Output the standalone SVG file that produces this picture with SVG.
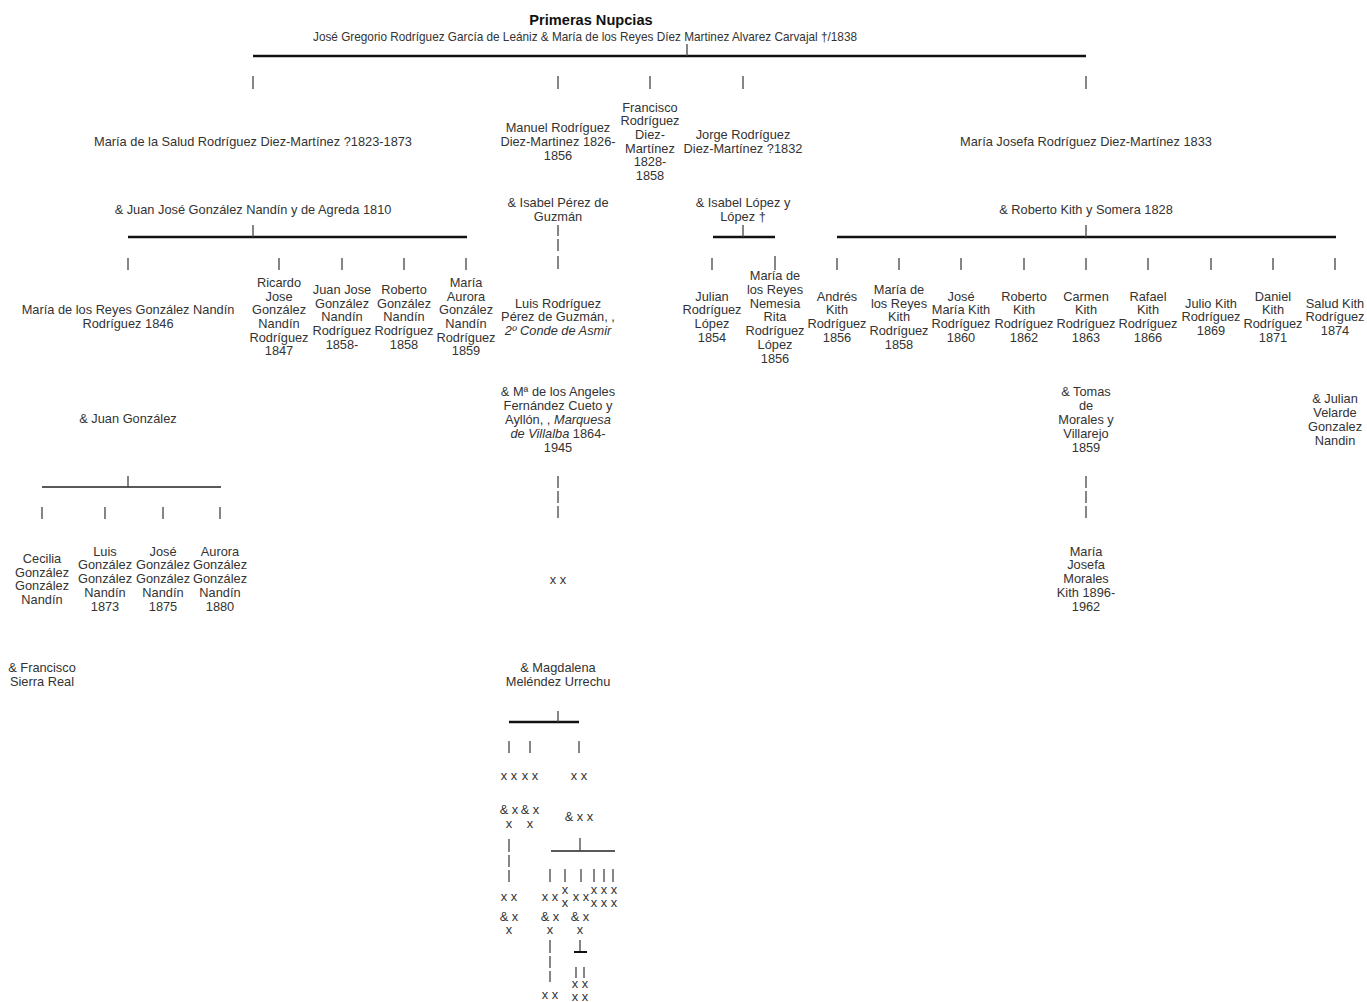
<svg xmlns="http://www.w3.org/2000/svg" width="1367" height="1002" viewBox="0 0 1367 1002">
<style>
.t{font-family:"Liberation Sans",Arial,sans-serif;font-size:12.8px;fill:#333;text-anchor:middle}
.b{font-weight:bold;font-size:14.6px;fill:#111}
.i{font-style:italic}
.tk{stroke:#444;stroke-width:1.3;fill:none}
.th{stroke:#111;stroke-width:2.6;fill:none}
.tn{stroke:#222;stroke-width:1.4;fill:none}
</style>
<rect width="1367" height="1002" fill="#fff"/>
<g id="connectors">
<line class="th" x1="253" y1="56" x2="1086" y2="56"/>
<line class="tk" x1="687" y1="44" x2="687" y2="56"/>
<g>
<line class="tk" x1="253" y1="76" x2="253" y2="89"/>
<line class="tk" x1="558" y1="76" x2="558" y2="89"/>
<line class="tk" x1="650" y1="76" x2="650" y2="89"/>
<line class="tk" x1="743" y1="76" x2="743" y2="89"/>
<line class="tk" x1="1086" y1="76" x2="1086" y2="89"/>
</g>
<line class="th" x1="128" y1="237" x2="467" y2="237"/>
<line class="tk" x1="253" y1="225" x2="253" y2="237"/>
<line class="tk" x1="558" y1="225" x2="558" y2="236"/>
<line class="tk" x1="558" y1="239" x2="558" y2="251"/>
<line class="tk" x1="558" y1="256" x2="558" y2="269"/>
<line class="th" x1="713" y1="237" x2="775" y2="237"/>
<line class="tk" x1="743" y1="225" x2="743" y2="237"/>
<line class="th" x1="837" y1="237" x2="1336" y2="237"/>
<line class="tk" x1="1086" y1="225" x2="1086" y2="237"/>
<g>
<line class="tk" x1="128" y1="258" x2="128" y2="270"/>
<line class="tk" x1="279" y1="258" x2="279" y2="270"/>
<line class="tk" x1="342" y1="258" x2="342" y2="270"/>
<line class="tk" x1="404" y1="258" x2="404" y2="270"/>
<line class="tk" x1="466" y1="258" x2="466" y2="270"/>
<line class="tk" x1="712" y1="258" x2="712" y2="270"/>
<line class="tk" x1="775" y1="256" x2="775" y2="270"/>
<line class="tk" x1="837" y1="258" x2="837" y2="270"/>
<line class="tk" x1="899" y1="258" x2="899" y2="270"/>
<line class="tk" x1="961" y1="258" x2="961" y2="270"/>
<line class="tk" x1="1024" y1="258" x2="1024" y2="270"/>
<line class="tk" x1="1086" y1="258" x2="1086" y2="270"/>
<line class="tk" x1="1148" y1="258" x2="1148" y2="270"/>
<line class="tk" x1="1211" y1="258" x2="1211" y2="270"/>
<line class="tk" x1="1273" y1="258" x2="1273" y2="270"/>
<line class="tk" x1="1335" y1="258" x2="1335" y2="270"/>
</g>
<line class="tn" x1="42" y1="487" x2="221" y2="487"/>
<line class="tk" x1="128" y1="476" x2="128" y2="487"/>
<line class="tk" x1="42" y1="507" x2="42" y2="519"/>
<line class="tk" x1="105" y1="507" x2="105" y2="519"/>
<line class="tk" x1="163" y1="507" x2="163" y2="519"/>
<line class="tk" x1="220" y1="507" x2="220" y2="519"/>
<line class="tk" x1="558" y1="476" x2="558" y2="488"/>
<line class="tk" x1="558" y1="491" x2="558" y2="503"/>
<line class="tk" x1="558" y1="506" x2="558" y2="518"/>
<line class="tk" x1="1086" y1="476" x2="1086" y2="488"/>
<line class="tk" x1="1086" y1="491" x2="1086" y2="503"/>
<line class="tk" x1="1086" y1="506" x2="1086" y2="518"/>
<line class="th" x1="509" y1="722" x2="579" y2="722"/>
<line class="tk" x1="558" y1="711" x2="558" y2="722"/>
<line class="tk" x1="509" y1="741" x2="509" y2="753"/>
<line class="tk" x1="530" y1="741" x2="530" y2="753"/>
<line class="tk" x1="579" y1="741" x2="579" y2="753"/>
<line class="tk" x1="509" y1="839" x2="509" y2="852"/>
<line class="tk" x1="509" y1="855" x2="509" y2="867"/>
<line class="tk" x1="509" y1="870" x2="509" y2="882"/>
<line class="tn" x1="551" y1="851" x2="615" y2="851"/>
<line class="tk" x1="580" y1="838" x2="580" y2="851"/>
<line class="tk" x1="550" y1="869" x2="550" y2="882"/>
<line class="tk" x1="565" y1="869" x2="565" y2="882"/>
<line class="tk" x1="581" y1="869" x2="581" y2="882"/>
<line class="tk" x1="594" y1="869" x2="594" y2="882"/>
<line class="tk" x1="604" y1="869" x2="604" y2="882"/>
<line class="tk" x1="613" y1="869" x2="613" y2="882"/>
<line class="tk" x1="550" y1="940" x2="550" y2="953"/>
<line class="tk" x1="550" y1="956" x2="550" y2="968"/>
<line class="tk" x1="550" y1="971" x2="550" y2="982"/>
<line class="tk" x1="580" y1="940" x2="580" y2="952"/>
<line class="th" x1="574" y1="952" x2="587" y2="952" style="stroke-width:2"/>
<line class="tk" x1="576" y1="967" x2="576" y2="978"/>
<line class="tk" x1="584" y1="967" x2="584" y2="978"/>
</g>
<g id="header">
<text class="t b" x="591" y="25">Primeras Nupcias</text>
<text class="t" x="585" y="41" textLength="544" lengthAdjust="spacingAndGlyphs">José Gregorio Rodríguez García de Leániz &amp; María de los Reyes Díez Martinez Alvarez Carvajal †/1838</text>
</g>
<g id="salud"><text class="t" x="253" y="146">María de la Salud Rodríguez Diez-Martínez ?1823-1873</text></g>
<g id="manuel"><text class="t"><tspan x="558" y="132">Manuel Rodríguez</tspan><tspan x="558" y="146">Diez-Martinez 1826-</tspan><tspan x="558" y="160">1856</tspan></text></g>
<g id="francisco"><text class="t"><tspan x="650" y="112">Francisco</tspan><tspan x="650" y="125">Rodríguez</tspan><tspan x="650" y="139">Diez-</tspan><tspan x="650" y="153">Martínez</tspan><tspan x="650" y="166">1828-</tspan><tspan x="650" y="180">1858</tspan></text></g>
<g id="jorge"><text class="t"><tspan x="743" y="139">Jorge Rodríguez</tspan><tspan x="743" y="153">Diez-Martínez ?1832</tspan></text></g>
<g id="mjosefa"><text class="t" x="1086" y="146">María Josefa Rodríguez Diez-Martínez 1833</text></g>
<g id="sp_salud"><text class="t" x="253" y="214">&amp; Juan José González Nandín y de Agreda 1810</text></g>
<g id="sp_manuel"><text class="t"><tspan x="558" y="207">&amp; Isabel Pérez de</tspan><tspan x="558" y="221">Guzmán</tspan></text></g>
<g id="sp_jorge"><text class="t"><tspan x="743" y="207">&amp; Isabel López y</tspan><tspan x="743" y="221">López †</tspan></text></g>
<g id="sp_mjosefa"><text class="t" x="1086" y="214">&amp; Roberto Kith y Somera 1828</text></g>
<g id="mreyes_gn"><text class="t"><tspan x="128" y="314">María de los Reyes González Nandín</tspan><tspan x="128" y="328">Rodríguez 1846</tspan></text></g>
<g id="ricardo"><text class="t"><tspan x="279" y="287">Ricardo</tspan><tspan x="279" y="301">Jose</tspan><tspan x="279" y="314">González</tspan><tspan x="279" y="328">Nandín</tspan><tspan x="279" y="342">Rodríguez</tspan><tspan x="279" y="355">1847</tspan></text></g>
<g id="juanjose"><text class="t"><tspan x="342" y="294">Juan Jose</tspan><tspan x="342" y="308">González</tspan><tspan x="342" y="321">Nandín</tspan><tspan x="342" y="335">Rodríguez</tspan><tspan x="342" y="349">1858-</tspan></text></g>
<g id="roberto_gn"><text class="t"><tspan x="404" y="294">Roberto</tspan><tspan x="404" y="308">González</tspan><tspan x="404" y="321">Nandín</tspan><tspan x="404" y="335">Rodríguez</tspan><tspan x="404" y="349">1858</tspan></text></g>
<g id="maurora"><text class="t"><tspan x="466" y="287">María</tspan><tspan x="466" y="301">Aurora</tspan><tspan x="466" y="314">González</tspan><tspan x="466" y="328">Nandín</tspan><tspan x="466" y="342">Rodríguez</tspan><tspan x="466" y="355">1859</tspan></text></g>
<g id="luis_rpg"><text class="t"><tspan x="558" y="308">Luis Rodríguez</tspan><tspan x="558" y="321">Pérez de Guzmán, ,</tspan><tspan x="558" y="335" class="i">2º Conde de Asmir</tspan></text></g>
<g id="julian_rl"><text class="t"><tspan x="712" y="301">Julian</tspan><tspan x="712" y="314">Rodríguez</tspan><tspan x="712" y="328">López</tspan><tspan x="712" y="342">1854</tspan></text></g>
<g id="mreyes_rl"><text class="t"><tspan x="775" y="280">María de</tspan><tspan x="775" y="294">los Reyes</tspan><tspan x="775" y="308">Nemesia</tspan><tspan x="775" y="321">Rita</tspan><tspan x="775" y="335">Rodríguez</tspan><tspan x="775" y="349">López</tspan><tspan x="775" y="363">1856</tspan></text></g>
<g id="andres"><text class="t"><tspan x="837" y="301">Andrés</tspan><tspan x="837" y="314">Kith</tspan><tspan x="837" y="328">Rodríguez</tspan><tspan x="837" y="342">1856</tspan></text></g>
<g id="mreyes_k"><text class="t"><tspan x="899" y="294">María de</tspan><tspan x="899" y="308">los Reyes</tspan><tspan x="899" y="321">Kith</tspan><tspan x="899" y="335">Rodríguez</tspan><tspan x="899" y="349">1858</tspan></text></g>
<g id="jmaria_k"><text class="t"><tspan x="961" y="301">José</tspan><tspan x="961" y="314">María Kith</tspan><tspan x="961" y="328">Rodríguez</tspan><tspan x="961" y="342">1860</tspan></text></g>
<g id="roberto_k"><text class="t"><tspan x="1024" y="301">Roberto</tspan><tspan x="1024" y="314">Kith</tspan><tspan x="1024" y="328">Rodríguez</tspan><tspan x="1024" y="342">1862</tspan></text></g>
<g id="carmen_k"><text class="t"><tspan x="1086" y="301">Carmen</tspan><tspan x="1086" y="314">Kith</tspan><tspan x="1086" y="328">Rodríguez</tspan><tspan x="1086" y="342">1863</tspan></text></g>
<g id="rafael_k"><text class="t"><tspan x="1148" y="301">Rafael</tspan><tspan x="1148" y="314">Kith</tspan><tspan x="1148" y="328">Rodríguez</tspan><tspan x="1148" y="342">1866</tspan></text></g>
<g id="julio_k"><text class="t"><tspan x="1211" y="308">Julio Kith</tspan><tspan x="1211" y="321">Rodríguez</tspan><tspan x="1211" y="335">1869</tspan></text></g>
<g id="daniel_k"><text class="t"><tspan x="1273" y="301">Daniel</tspan><tspan x="1273" y="314">Kith</tspan><tspan x="1273" y="328">Rodríguez</tspan><tspan x="1273" y="342">1871</tspan></text></g>
<g id="salud_k"><text class="t"><tspan x="1335" y="308">Salud Kith</tspan><tspan x="1335" y="321">Rodríguez</tspan><tspan x="1335" y="335">1874</tspan></text></g>
<g id="sp_mreyes_gn"><text class="t" x="128" y="423">&amp; Juan González</text></g>
<g id="sp_luis"><text class="t"><tspan x="558" y="396">&amp; Mª de los Angeles</tspan><tspan x="558" y="410">Fernández Cueto y</tspan><tspan x="558" y="424">Ayllón, , <tspan class="i">Marquesa</tspan></tspan><tspan x="558" y="438"><tspan class="i">de Villalba</tspan> 1864-</tspan><tspan x="558" y="452">1945</tspan></text></g>
<g id="sp_carmen"><text class="t"><tspan x="1086" y="396">&amp; Tomas</tspan><tspan x="1086" y="410">de</tspan><tspan x="1086" y="424">Morales y</tspan><tspan x="1086" y="438">Villarejo</tspan><tspan x="1086" y="452">1859</tspan></text></g>
<g id="sp_salud_k"><text class="t"><tspan x="1335" y="403">&amp; Julian</tspan><tspan x="1335" y="417">Velarde</tspan><tspan x="1335" y="431">Gonzalez</tspan><tspan x="1335" y="445">Nandin</tspan></text></g>
<g id="cecilia"><text class="t"><tspan x="42" y="563">Cecilia</tspan><tspan x="42" y="577">González</tspan><tspan x="42" y="590">González</tspan><tspan x="42" y="604">Nandín</tspan></text></g>
<g id="luis_gg"><text class="t"><tspan x="105" y="556">Luis</tspan><tspan x="105" y="569">González</tspan><tspan x="105" y="583">González</tspan><tspan x="105" y="597">Nandín</tspan><tspan x="105" y="611">1873</tspan></text></g>
<g id="jose_gg"><text class="t"><tspan x="163" y="556">José</tspan><tspan x="163" y="569">González</tspan><tspan x="163" y="583">González</tspan><tspan x="163" y="597">Nandín</tspan><tspan x="163" y="611">1875</tspan></text></g>
<g id="aurora_gg"><text class="t"><tspan x="220" y="556">Aurora</tspan><tspan x="220" y="569">González</tspan><tspan x="220" y="583">González</tspan><tspan x="220" y="597">Nandín</tspan><tspan x="220" y="611">1880</tspan></text></g>
<g id="xx_luis"><text class="t" x="558" y="584">x x</text></g>
<g id="mjosefa_mk"><text class="t"><tspan x="1086" y="556">María</tspan><tspan x="1086" y="569">Josefa</tspan><tspan x="1086" y="583">Morales</tspan><tspan x="1086" y="597">Kith 1896-</tspan><tspan x="1086" y="611">1962</tspan></text></g>
<g id="sp_cecilia"><text class="t"><tspan x="42" y="672">&amp; Francisco</tspan><tspan x="42" y="686">Sierra Real</tspan></text></g>
<g id="sp_xx"><text class="t"><tspan x="558" y="672">&amp; Magdalena</tspan><tspan x="558" y="686">Meléndez Urrechu</tspan></text></g>
<g id="g5a"><text class="t" x="509" y="780">x x</text></g>
<g id="g5b"><text class="t" x="530" y="780">x x</text></g>
<g id="g5c"><text class="t" x="579" y="780">x x</text></g>
<g id="sp5a"><text class="t"><tspan x="509" y="814">&amp; x</tspan><tspan x="509" y="828">x</tspan></text></g>
<g id="sp5b"><text class="t"><tspan x="530" y="814">&amp; x</tspan><tspan x="530" y="828">x</tspan></text></g>
<g id="sp5c"><text class="t" x="579" y="821">&amp; x x</text></g>
<g id="g6a"><text class="t" x="509" y="901">x x</text></g>
<g id="g6b"><text class="t" x="550" y="901">x x</text></g>
<g id="g6c"><text class="t"><tspan x="565" y="894">x</tspan><tspan x="565" y="907">x</tspan></text></g>
<g id="g6d"><text class="t" x="581" y="901">x x</text></g>
<g id="g6e"><text class="t"><tspan x="604" y="894">x x x</tspan><tspan x="604" y="907">x x x</tspan></text></g>
<g id="sp6a"><text class="t"><tspan x="509" y="921">&amp; x</tspan><tspan x="509" y="934">x</tspan></text></g>
<g id="sp6b"><text class="t"><tspan x="550" y="921">&amp; x</tspan><tspan x="550" y="934">x</tspan></text></g>
<g id="sp6d"><text class="t"><tspan x="580" y="921">&amp; x</tspan><tspan x="580" y="934">x</tspan></text></g>
<g id="g7a"><text class="t" x="550" y="999">x x</text></g>
<g id="g7b"><text class="t"><tspan x="580" y="988">x x</tspan><tspan x="580" y="1001">x x</tspan></text></g>
</svg>
